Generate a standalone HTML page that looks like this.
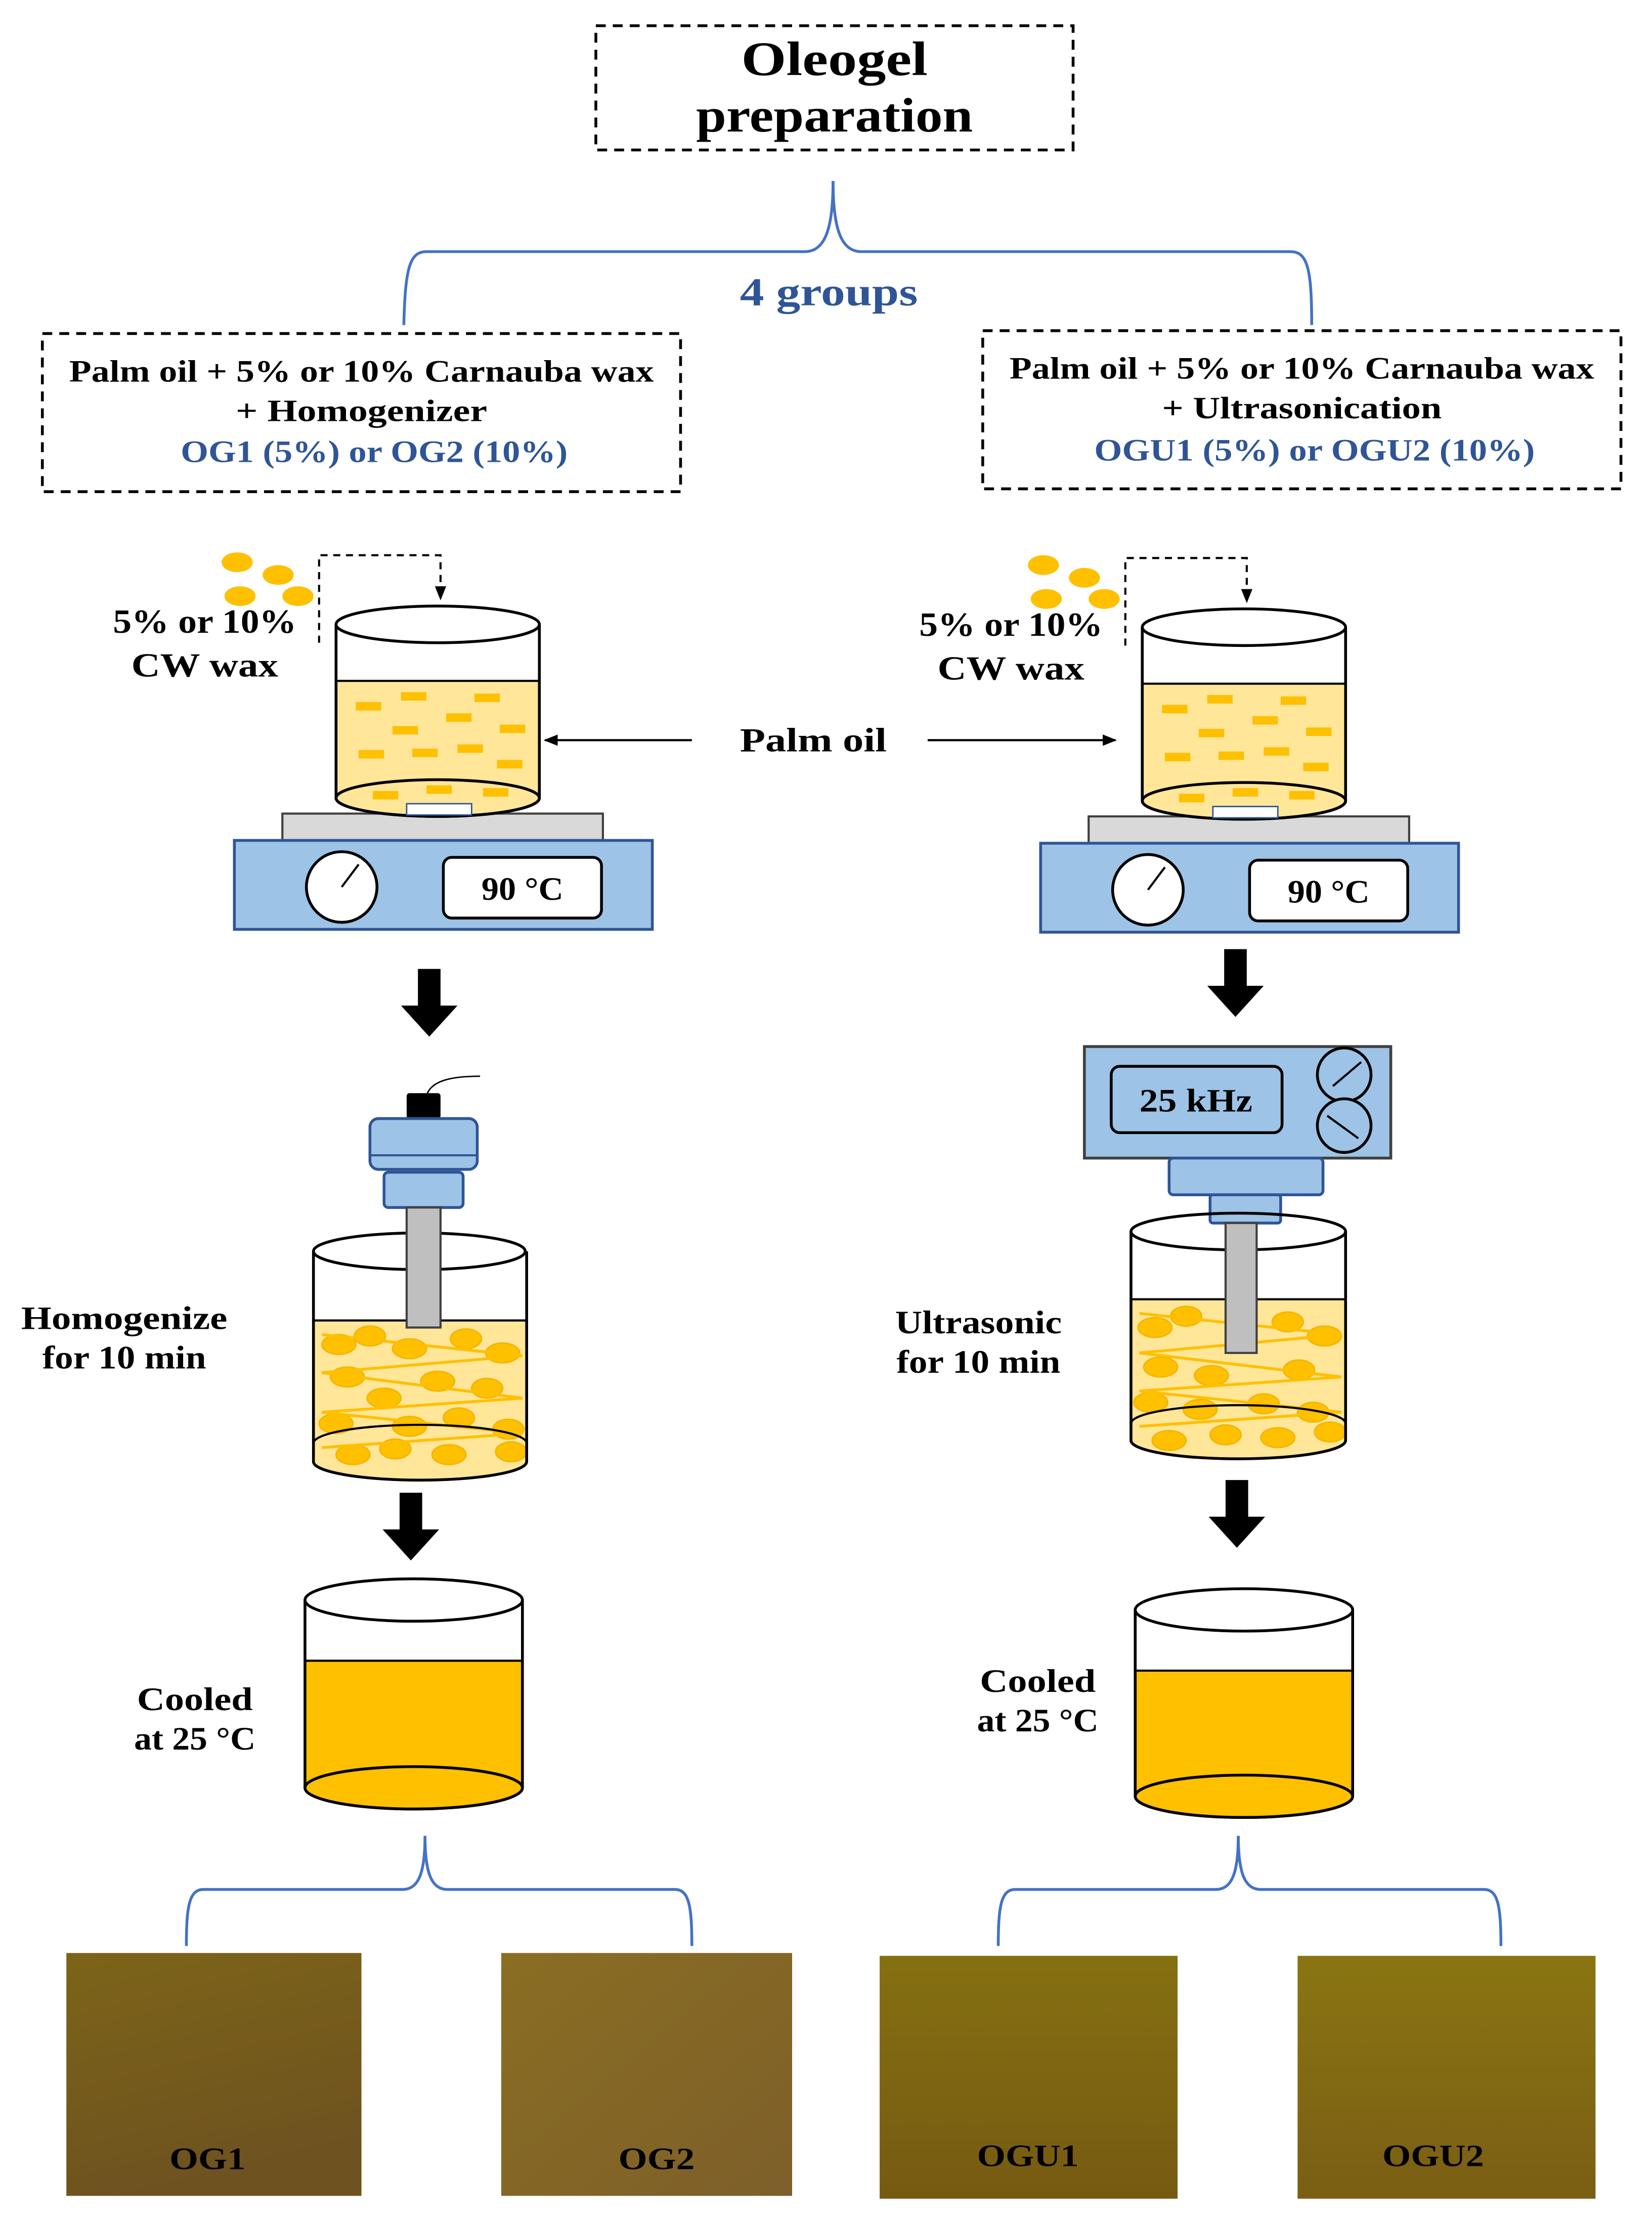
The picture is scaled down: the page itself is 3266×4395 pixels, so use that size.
<!DOCTYPE html>
<html><head><meta charset="utf-8"><style>
html,body{margin:0;padding:0;background:#fff;}
svg{display:block;}
text{font-family:"Liberation Serif",serif;font-weight:bold;}
</style></head><body>
<svg width="3266" height="4395" viewBox="0 0 1170 1574" xmlns="http://www.w3.org/2000/svg">
<defs>
<marker id="ah" markerWidth="10" markerHeight="10" refX="9" refY="5" orient="auto" markerUnits="userSpaceOnUse"><path d="M0,1 L10,5 L0,9 z" fill="#000"/></marker>
<linearGradient id="g1" x1="0" y1="0" x2="0.3" y2="1"><stop offset="0" stop-color="#7d6418"/><stop offset="1" stop-color="#6e5220"/></linearGradient>
<linearGradient id="g2" x1="0" y1="0" x2="1" y2="1"><stop offset="0" stop-color="#8a6e22"/><stop offset="1" stop-color="#7d5f2a"/></linearGradient>
<linearGradient id="g3" x1="0" y1="0" x2="0" y2="1"><stop offset="0" stop-color="#857011"/><stop offset="1" stop-color="#765a12"/></linearGradient>
<linearGradient id="g4" x1="0" y1="0" x2="0" y2="1"><stop offset="0" stop-color="#8a7512"/><stop offset="1" stop-color="#7a5e14"/></linearGradient>
</defs>

<!-- Title -->
<rect x="422" y="18" width="338" height="88" fill="none" stroke="#000" stroke-width="2" stroke-dasharray="7,5"/>
<text x="591" y="53" font-size="34" text-anchor="middle" textLength="132" lengthAdjust="spacingAndGlyphs">Oleogel</text>
<text x="591" y="93" font-size="34" text-anchor="middle" textLength="196" lengthAdjust="spacingAndGlyphs">preparation</text>

<!-- top brace -->
<path d="M590,128 C590,160 585,178 570,178 L302,178 C290,178 287,190 286,230" fill="none" stroke="#4472C4" stroke-width="2"/>
<path d="M590,128 C590,160 595,178 610,178 L914,178 C926,178 929,190 929,230" fill="none" stroke="#4472C4" stroke-width="2"/>
<text x="587" y="216" font-size="28" fill="#2F5597" text-anchor="middle" textLength="126" lengthAdjust="spacingAndGlyphs">4 groups</text>

<!-- group boxes -->
<rect x="30" y="236" width="452" height="112" fill="none" stroke="#000" stroke-width="2" stroke-dasharray="7,5"/>
<text x="256" y="270" font-size="22" text-anchor="middle" textLength="414" lengthAdjust="spacingAndGlyphs">Palm oil + 5% or 10% Carnauba wax</text>
<text x="256" y="298" font-size="22" text-anchor="middle" textLength="178" lengthAdjust="spacingAndGlyphs">+ Homogenizer</text>
<text x="265" y="327" font-size="22" fill="#2F5597" text-anchor="middle" textLength="274" lengthAdjust="spacingAndGlyphs">OG1 (5%) or OG2 (10%)</text>

<rect x="696" y="234" width="452" height="112" fill="none" stroke="#000" stroke-width="2" stroke-dasharray="7,5"/>
<text x="922" y="268" font-size="22" text-anchor="middle" textLength="414" lengthAdjust="spacingAndGlyphs">Palm oil + 5% or 10% Carnauba wax</text>
<text x="922" y="296" font-size="22" text-anchor="middle" textLength="198" lengthAdjust="spacingAndGlyphs">+ Ultrasonication</text>
<text x="931" y="326" font-size="22" fill="#2F5597" text-anchor="middle" textLength="312" lengthAdjust="spacingAndGlyphs">OGU1 (5%) or OGU2 (10%)</text>

<!-- Palm oil -->
<text x="576" y="532" font-size="24" text-anchor="middle" textLength="104" lengthAdjust="spacingAndGlyphs">Palm oil</text>
<line x1="490" y1="524" x2="386" y2="524" stroke="#000" stroke-width="1.5" marker-end="url(#ah)"/>
<line x1="657" y1="524" x2="790" y2="524" stroke="#000" stroke-width="1.5" marker-end="url(#ah)"/>

<!-- LEFT heating beaker -->
<g id="heat">
<ellipse cx="168" cy="398" rx="11" ry="7" fill="#FFC000"/>
<ellipse cx="197" cy="407" rx="11" ry="7" fill="#FFC000"/>
<ellipse cx="170" cy="422" rx="11" ry="7" fill="#FFC000"/>
<ellipse cx="211" cy="422" rx="11" ry="7" fill="#FFC000"/>
<path d="M226,455 L226,393 L312,393 L312,424" fill="none" stroke="#000" stroke-width="1.5" stroke-dasharray="5,4" marker-end="url(#ah)"/>
<text x="145" y="448" font-size="24" text-anchor="middle" textLength="130" lengthAdjust="spacingAndGlyphs">5% or 10%</text>
<text x="145" y="479" font-size="24" text-anchor="middle" textLength="104" lengthAdjust="spacingAndGlyphs">CW wax</text>
<rect x="200" y="576" width="227" height="20" fill="#D9D9D9" stroke="#404040" stroke-width="1.5"/>
<rect x="166" y="595" width="296" height="63" fill="#9DC3E6" stroke="#2F5597" stroke-width="2"/>
<circle cx="242" cy="628" r="25" fill="#fff" stroke="#000" stroke-width="2"/>
<line x1="242" y1="628" x2="254" y2="612" stroke="#000" stroke-width="1.5"/>
<rect x="314" y="607" width="112" height="43" rx="6" fill="#fff" stroke="#000" stroke-width="2"/>
<text x="370" y="637" font-size="23" text-anchor="middle" textLength="58" lengthAdjust="spacingAndGlyphs">90 °C</text>
<path d="M238,482 L238,565 A72,13 0 0 0 382,565 L382,482 Z" fill="#FFE699"/>
<path d="M238,442 L238,565 A72,13 0 0 0 382,565 L382,442" fill="none" stroke="#000" stroke-width="2"/>
<line x1="238" y1="482" x2="382" y2="482" stroke="#000" stroke-width="1.5"/>
<ellipse cx="310" cy="442" rx="72" ry="13" fill="#fff" stroke="#000" stroke-width="2"/>
<ellipse cx="310" cy="565" rx="72" ry="13" fill="none" stroke="#000" stroke-width="2"/>
<rect x="288" y="569" width="46" height="8" fill="#fff" stroke="#2F5597" stroke-width="1"/>
<g fill="#FFC000">
<rect x="252" y="497" width="18" height="6"/><rect x="284" y="490" width="18" height="6"/><rect x="336" y="491" width="18" height="6"/>
<rect x="316" y="505" width="18" height="6"/><rect x="278" y="514" width="18" height="6"/><rect x="354" y="513" width="18" height="6"/>
<rect x="254" y="531" width="18" height="6"/><rect x="292" y="530" width="18" height="6"/><rect x="324" y="527" width="18" height="6"/>
<rect x="352" y="538" width="18" height="6"/><rect x="264" y="560" width="18" height="6"/><rect x="302" y="556" width="18" height="6"/><rect x="342" y="558" width="18" height="6"/>
</g>
</g>
<use href="#heat" transform="translate(571,2)"/>

<!-- big arrows -->
<g fill="#000">
<path d="M296,686 h16 v26 h12 l-20,22 l-20,-22 h12 z"/>
<path d="M867,672 h16 v26 h12 l-20,22 l-20,-22 h12 z"/>
<path d="M283,1057 h16 v26 h12 l-20,22 l-20,-22 h12 z"/>
<path d="M868,1048 h16 v26 h12 l-20,22 l-20,-22 h12 z"/>
</g>

<!-- Homogenizer -->
<path d="M302,776 C305,765 320,762 340,762" fill="none" stroke="#000" stroke-width="1"/>
<rect x="288" y="774" width="24" height="18" rx="2" fill="#000"/>
<rect x="262" y="792" width="76" height="36" rx="6" fill="#9DC3E6" stroke="#2F5597" stroke-width="2"/>
<line x1="262" y1="818" x2="338" y2="818" stroke="#2F5597" stroke-width="1.5"/>
<rect x="272" y="830" width="56" height="25" rx="3" fill="#9DC3E6" stroke="#2F5597" stroke-width="2"/>
<path d="M222,935 L222,1035 A75,13 0 0 0 373,1035 L373,935 Z" fill="#FFE699"/>
<g fill="#FFC000" stroke="#F2B600" stroke-width="1">
<ellipse cx="240" cy="952" rx="12" ry="7"/><ellipse cx="262" cy="946" rx="11" ry="7"/><ellipse cx="290" cy="955" rx="12" ry="7"/><ellipse cx="330" cy="948" rx="11" ry="7"/><ellipse cx="356" cy="958" rx="12" ry="7"/>
<ellipse cx="246" cy="975" rx="12" ry="7"/><ellipse cx="310" cy="978" rx="12" ry="7"/><ellipse cx="345" cy="983" rx="11" ry="7"/><ellipse cx="272" cy="990" rx="12" ry="7"/>
<ellipse cx="238" cy="1008" rx="12" ry="7"/><ellipse cx="290" cy="1010" rx="12" ry="7"/><ellipse cx="325" cy="1004" rx="11" ry="7"/><ellipse cx="360" cy="1012" rx="11" ry="7"/>
<ellipse cx="250" cy="1030" rx="12" ry="7"/><ellipse cx="280" cy="1026" rx="11" ry="7"/><ellipse cx="318" cy="1030" rx="12" ry="7"/><ellipse cx="362" cy="1028" rx="11" ry="7"/>
</g>
<path d="M228,945 L370,960 L228,972 L370,990 L228,1000 L370,1015 L228,1025" fill="none" stroke="#FFC000" stroke-width="2"/>
<path d="M222,886 L222,1035 A75,13 0 0 0 373,1035 L373,886" fill="none" stroke="#000" stroke-width="2"/>
<line x1="222" y1="935" x2="373" y2="935" stroke="#000" stroke-width="1.5"/>
<path d="M222,1022 A75,13 0 0 1 373,1022" fill="none" stroke="#000" stroke-width="1.5"/>
<ellipse cx="297" cy="886" rx="75" ry="13" fill="none" stroke="#000" stroke-width="2"/>
<rect x="288" y="855" width="24" height="85" fill="#BFBFBF" stroke="#404040" stroke-width="1.5"/>
<text x="88" y="941" font-size="23" text-anchor="middle" textLength="146" lengthAdjust="spacingAndGlyphs">Homogenize</text>
<text x="88" y="969" font-size="23" text-anchor="middle" textLength="116" lengthAdjust="spacingAndGlyphs">for 10 min</text>

<!-- Ultrasonicator -->
<rect x="768" y="741" width="217" height="79" fill="#9DC3E6" stroke="#404040" stroke-width="2"/>
<rect x="787" y="755" width="121" height="47" rx="6" fill="#9DC3E6" stroke="#000" stroke-width="2"/>
<text x="847" y="787" font-size="23" text-anchor="middle" textLength="80" lengthAdjust="spacingAndGlyphs">25 kHz</text>
<circle cx="952" cy="761" r="19" fill="#9DC3E6" stroke="#000" stroke-width="2"/>
<line x1="944" y1="769" x2="964" y2="752" stroke="#000" stroke-width="1.5"/>
<circle cx="952" cy="797" r="19" fill="#9DC3E6" stroke="#000" stroke-width="2"/>
<line x1="940" y1="790" x2="962" y2="806" stroke="#000" stroke-width="1.5"/>
<rect x="828" y="820" width="109" height="26" rx="3" fill="#9DC3E6" stroke="#2F5597" stroke-width="2"/>
<rect x="857" y="846" width="50" height="20" rx="2" fill="#9DC3E6" stroke="#2F5597" stroke-width="2"/>
<path d="M801,920 L801,1020 A76,13 0 0 0 953,1020 L953,920 Z" fill="#FFE699"/>
<g fill="#FFC000" stroke="#F2B600" stroke-width="1">
<ellipse cx="818" cy="940" rx="12" ry="7"/><ellipse cx="840" cy="932" rx="11" ry="7"/><ellipse cx="912" cy="936" rx="11" ry="7"/><ellipse cx="938" cy="946" rx="12" ry="7"/>
<ellipse cx="822" cy="968" rx="12" ry="7"/><ellipse cx="858" cy="974" rx="12" ry="7"/><ellipse cx="920" cy="970" rx="11" ry="7"/>
<ellipse cx="815" cy="993" rx="12" ry="7"/><ellipse cx="850" cy="998" rx="12" ry="7"/><ellipse cx="895" cy="994" rx="11" ry="7"/><ellipse cx="930" cy="1000" rx="11" ry="7"/>
<ellipse cx="828" cy="1020" rx="12" ry="7"/><ellipse cx="868" cy="1016" rx="11" ry="7"/><ellipse cx="905" cy="1018" rx="12" ry="7"/><ellipse cx="942" cy="1014" rx="11" ry="7"/>
</g>
<path d="M807,930 L950,945 L807,958 L950,975 L807,985 L950,1000 L807,1010" fill="none" stroke="#FFC000" stroke-width="2"/>
<path d="M801,872 L801,1020 A76,13 0 0 0 953,1020 L953,872" fill="none" stroke="#000" stroke-width="2"/>
<line x1="801" y1="920" x2="953" y2="920" stroke="#000" stroke-width="1.5"/>
<path d="M801,1008 A76,13 0 0 1 953,1008" fill="none" stroke="#000" stroke-width="1.5"/>
<ellipse cx="877" cy="872" rx="76" ry="13" fill="none" stroke="#000" stroke-width="2"/>
<rect x="868" y="866" width="22" height="92" fill="#BFBFBF" stroke="#404040" stroke-width="1.5"/>
<text x="693" y="944" font-size="23" text-anchor="middle" textLength="118" lengthAdjust="spacingAndGlyphs">Ultrasonic</text>
<text x="693" y="972" font-size="23" text-anchor="middle" textLength="116" lengthAdjust="spacingAndGlyphs">for 10 min</text>

<!-- Cooled beakers -->
<path d="M216,1176 L216,1266 A77,15 0 0 0 370,1266 L370,1176 Z" fill="#FFC000"/>
<path d="M216,1133 L216,1266 A77,15 0 0 0 370,1266 L370,1133" fill="none" stroke="#000" stroke-width="2"/>
<line x1="216" y1="1176" x2="370" y2="1176" stroke="#000" stroke-width="1.5"/>
<ellipse cx="293" cy="1266" rx="77" ry="15" fill="#FFC000" stroke="#000" stroke-width="2"/>
<ellipse cx="293" cy="1133" rx="77" ry="15" fill="#fff" stroke="#000" stroke-width="2"/>
<text x="138" y="1211" font-size="23" text-anchor="middle" textLength="82" lengthAdjust="spacingAndGlyphs">Cooled</text>
<text x="138" y="1239" font-size="23" text-anchor="middle" textLength="86" lengthAdjust="spacingAndGlyphs">at 25 °C</text>

<path d="M804,1183 L804,1272 A77,15 0 0 0 958,1272 L958,1183 Z" fill="#FFC000"/>
<path d="M804,1140 L804,1272 A77,15 0 0 0 958,1272 L958,1140" fill="none" stroke="#000" stroke-width="2"/>
<line x1="804" y1="1183" x2="958" y2="1183" stroke="#000" stroke-width="1.5"/>
<ellipse cx="881" cy="1272" rx="77" ry="15" fill="#FFC000" stroke="#000" stroke-width="2"/>
<ellipse cx="881" cy="1140" rx="77" ry="15" fill="#fff" stroke="#000" stroke-width="2"/>
<text x="735" y="1198" font-size="23" text-anchor="middle" textLength="82" lengthAdjust="spacingAndGlyphs">Cooled</text>
<text x="735" y="1226" font-size="23" text-anchor="middle" textLength="86" lengthAdjust="spacingAndGlyphs">at 25 °C</text>

<!-- bottom braces -->
<path d="M301,1300 C301,1325 297,1338 285,1338 L144,1338 C134,1338 132,1350 132,1378" fill="none" stroke="#4472C4" stroke-width="2"/>
<path d="M301,1300 C301,1325 305,1338 317,1338 L478,1338 C488,1338 490,1350 490,1378" fill="none" stroke="#4472C4" stroke-width="2"/>
<path d="M877,1300 C877,1325 873,1338 861,1338 L719,1338 C709,1338 707,1350 707,1378" fill="none" stroke="#4472C4" stroke-width="2"/>
<path d="M877,1300 C877,1325 881,1338 893,1338 L1051,1338 C1061,1338 1063,1350 1063,1378" fill="none" stroke="#4472C4" stroke-width="2"/>

<!-- samples -->
<rect x="47" y="1383" width="209" height="172" fill="url(#g1)"/>
<rect x="355" y="1383" width="206" height="172" fill="url(#g2)"/>
<rect x="623" y="1385" width="211" height="172" fill="url(#g3)"/>
<rect x="919" y="1385" width="211" height="172" fill="url(#g4)"/>
<text x="147" y="1536" font-size="22" text-anchor="middle" fill="#000" textLength="54" lengthAdjust="spacingAndGlyphs">OG1</text>
<text x="465" y="1536" font-size="22" text-anchor="middle" fill="#000" textLength="54" lengthAdjust="spacingAndGlyphs">OG2</text>
<text x="728" y="1534" font-size="22" text-anchor="middle" fill="#000" textLength="72" lengthAdjust="spacingAndGlyphs">OGU1</text>
<text x="1015" y="1534" font-size="22" text-anchor="middle" fill="#000" textLength="72" lengthAdjust="spacingAndGlyphs">OGU2</text>
</svg>
</body></html>
